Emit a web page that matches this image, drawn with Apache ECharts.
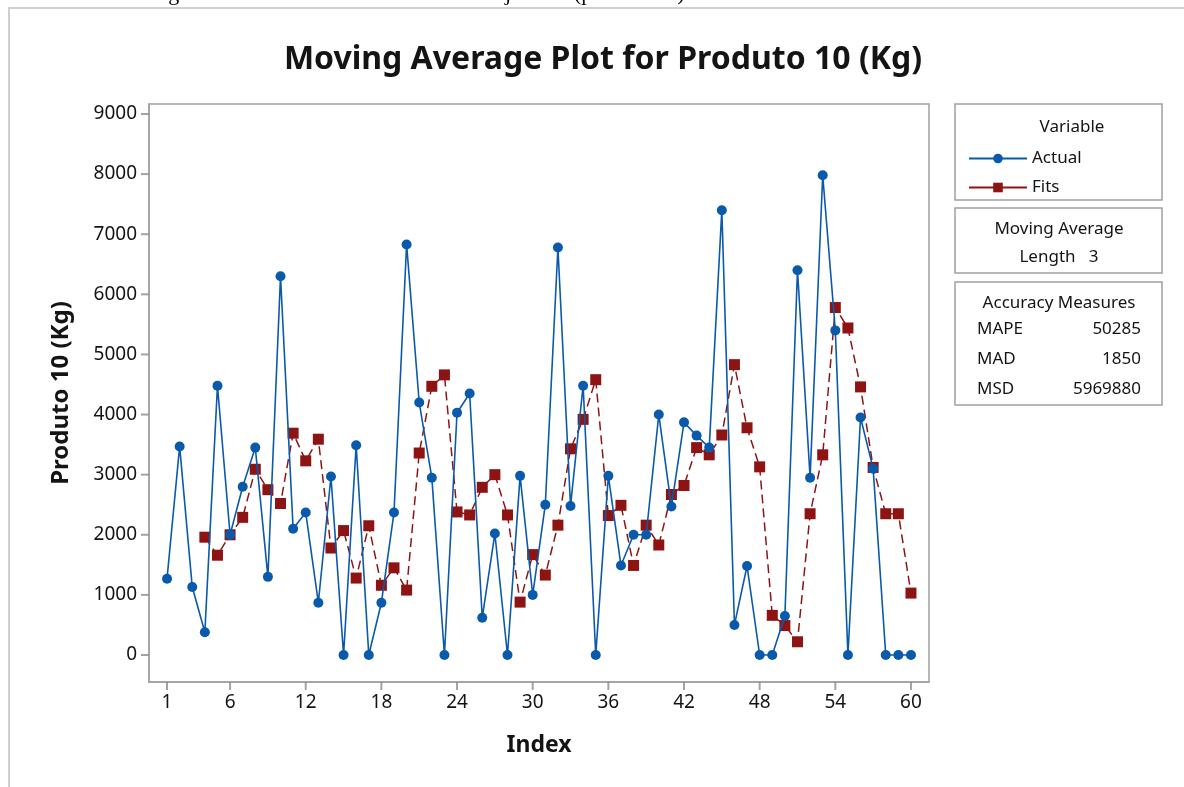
<!DOCTYPE html>
<html>
<head>
    <meta charset="utf-8">
    <script src="https://cdn.jsdelivr.net/npm/echarts@6/dist/echarts.min.js"></script>
    <style>
        body { margin: 0; background: #fff; }
        #chart { width: 1184px; height: 787px; }
    </style>
</head>
<body>
    <div id="chart"></div>
    <script>
        // Index 1..60
        let index = [];
        for (let i = 1; i <= 60; i++) index.push(i);

        let actual = [1270, 3470, 1130, 380, 4480, 2000, 2800, 3450, 1300, 6300,
                      2100, 2370, 870, 2970, 0, 3490, 0, 870, 2370, 6830,
                      4200, 2950, 0, 4030, 4350, 620, 2020, 0, 2980, 1000,
                      2500, 6780, 2480, 4480, 0, 2980, 1490, 2000, 2000, 4000,
                      2470, 3870, 3650, 3450, 7400, 500, 1480, 0, 0, 650,
                      6400, 2950, 7980, 5400, 0, 3950, 3100, 0, 0, 0];

        // fits start at index 4
        let fits = [null, null, null, 1960, 1660, 2000, 2290, 3090, 2750, 2520,
                    3690, 3230, 3590, 1780, 2070, 1280, 2150, 1160, 1450, 1080,
                    3360, 4470, 4660, 2380, 2330, 2790, 3000, 2330, 880, 1670,
                    1330, 2160, 3430, 3920, 4580, 2320, 2490, 1490, 2160, 1830,
                    2670, 2820, 3450, 3330, 3660, 4830, 3780, 3130, 660, 490,
                    220, 2350, 3330, 5780, 5440, 4460, 3120, 2350, 2350, 1030];

        let xTicks = [1, 6, 12, 18, 24, 30, 36, 42, 48, 54, 60];
        let yTicks = [0, 1000, 2000, 3000, 4000, 5000, 6000, 7000, 8000, 9000];

        let accuracy = [['MAPE', '50285'], ['MAD', '1850'], ['MSD', '5969880']];

        const BLUE = '#0a5aab';
        const RED = '#8e1414';
        const GRAY = '#a0a0a0';
        const TICK = '#8c8c8c';
        const FONT = '"Noto Sans", "Open Sans", sans-serif';
        const TXT = '#141414';
        const X_MIN = -0.43, X_MAX = 61.43, Y_MIN = -449, Y_MAX = 9166;

        var chart = echarts.init(document.getElementById('chart'), null, { renderer: 'canvas' });

        function label(x, y, text, align) {
            return { type: 'text', x: x, y: y,
                     style: { text: text, font: '17px ' + FONT, fill: TXT, align: align || 'center', verticalAlign: 'middle' } };
        }

        let graphics = [
            { type: 'rect', shape: { x: 9, y: 8, width: 1200, height: 800 },
              style: { fill: 'none', stroke: '#cfcfcf', lineWidth: 2 }, silent: true },
            { type: 'text', left: 150, top: -17,
              style: { text: 'Figura 30 - Modelo de Médias Móveis ajustado (produto 10).',
                       font: '22px "Liberation Serif", serif', fill: '#000' } },
            { type: 'rect', shape: { x: 955, y: 104, width: 207, height: 96 },
              style: { fill: 'none', stroke: GRAY, lineWidth: 1.5 } },
            { type: 'rect', shape: { x: 955, y: 208, width: 207, height: 65 },
              style: { fill: 'none', stroke: GRAY, lineWidth: 1.5 } },
            { type: 'rect', shape: { x: 955, y: 282, width: 207, height: 123 },
              style: { fill: 'none', stroke: GRAY, lineWidth: 1.5 } },
            label(1072, 127, 'Variable'),
            label(1059, 229, 'Moving Average'),
            label(1059, 257, 'Length   3'),
            label(1059, 303, 'Accuracy Measures')
        ];
        accuracy.forEach(function (row, k) {
            let y = 329 + k * 30;
            graphics.push(label(977, y, row[0], 'left'));
            graphics.push(label(1141, y, row[1], 'right'));
        });

        // tick marks drawn as small bars just outside the frame
        function tickSeries(data, size, offset) {
            return {
                type: 'scatter', data: data, clip: false, silent: true,
                symbol: 'rect', symbolSize: size, symbolOffset: offset,
                itemStyle: { color: TICK }, z: 1
            };
        }

        var option = {
            animation: false,
            title: {
                text: 'Moving Average Plot for Produto 10 (Kg)',
                left: 598, top: 39, textAlign: 'center',
                textStyle: { fontFamily: FONT, fontSize: 32, fontWeight: 'bold', color: TXT }
            },
            legend: {
                orient: 'vertical',
                left: 963, top: 145,
                itemWidth: 58, itemHeight: 12, itemGap: 12,
                textStyle: { fontFamily: FONT, fontSize: 17, color: TXT },
                data: ['Actual', { name: 'Fits', lineStyle: { type: 'solid' } }]
            },
            grid: { left: 149, top: 104, width: 780, height: 578, show: true, borderColor: GRAY, borderWidth: 1.5 },
            xAxis: {
                type: 'value', min: X_MIN, max: X_MAX,
                name: 'Index', nameLocation: 'middle', nameGap: 52,
                nameTextStyle: { fontFamily: FONT, fontSize: 23, fontWeight: 'bold', color: TXT },
                splitLine: { show: false },
                axisLine: { show: true, onZero: false, lineStyle: { color: GRAY, width: 1.5 } },
                axisTick: { show: false },
                axisLabel: { customValues: xTicks, fontFamily: FONT, fontSize: 19, color: TXT, margin: 11 }
            },
            yAxis: {
                type: 'value', min: Y_MIN, max: Y_MAX,
                name: 'Produto 10 (Kg)', nameLocation: 'middle', nameGap: 76,
                nameTextStyle: { fontFamily: FONT, fontSize: 24, fontWeight: 'bold', color: TXT },
                splitLine: { show: false },
                axisLine: { show: true, onZero: false, lineStyle: { color: GRAY, width: 1.5 } },
                axisTick: { show: false },
                axisLabel: { customValues: yTicks, fontFamily: FONT, fontSize: 19, color: TXT, margin: 12,
                             formatter: v => String(v) }
            },
            series: [
                {
                    name: 'Actual', type: 'line',
                    data: index.map((x, i) => [x, actual[i]]),
                    symbol: 'circle', symbolSize: 10,
                    itemStyle: { color: BLUE },
                    lineStyle: { color: BLUE, width: 1.6 },
                    z: 3
                },
                {
                    name: 'Fits', type: 'line',
                    data: index.map((x, i) => [x, fits[i]]).filter(p => p[1] !== null),
                    symbol: 'rect', symbolSize: 11,
                    itemStyle: { color: RED },
                    lineStyle: { color: RED, width: 1.5, type: [9, 5] },
                    z: 2
                },
                tickSeries(xTicks.map(v => [v, Y_MIN]), [2, 8], [0, 4]),
                tickSeries(yTicks.map(v => [X_MIN, v]), [8, 2], [-4, 0])
            ],
            graphic: graphics
        };
        chart.setOption(option);
    </script>
</body>
</html>
